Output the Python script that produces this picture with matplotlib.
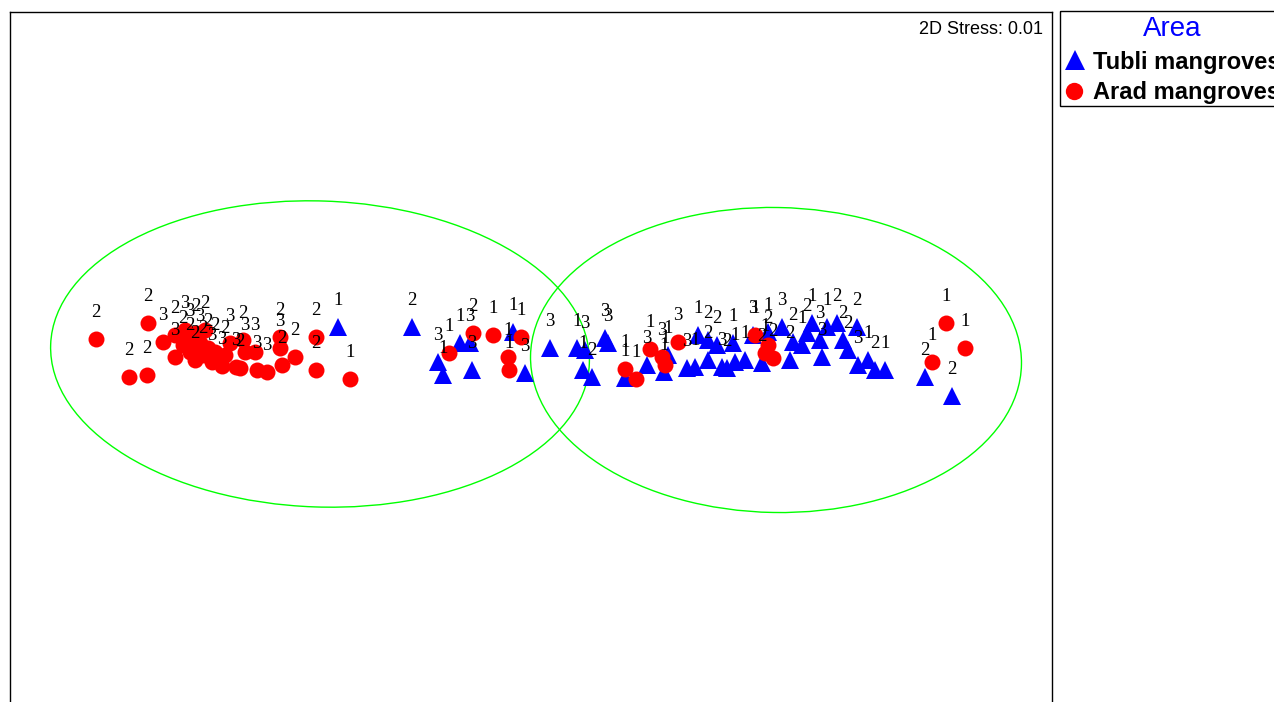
import matplotlib
matplotlib.use("Agg")
import matplotlib.pyplot as plt
from matplotlib.patches import Ellipse, Rectangle

# nMDS coordinates, with sample labels
tubli_x = [-1.92, -1.18, -0.70, -0.60, -0.92, -0.87, -0.58, -0.17, -0.05, 0.20,
           0.47, 0.55, 0.53, 0.62, 0.75, 0.78, 0.95, 1.17, 1.34, 1.38,
           1.57, 1.65, 1.68, 1.78, 1.87, 1.78, 1.92, 1.97, 2.03, 2.05,
           2.15, 2.23, 2.32, 2.38, 2.52, 2.60, 2.63, 2.72, 2.77, 2.82,
           2.90, 2.92, 2.97, 3.07, 3.13, 3.18, 3.27, 3.28, 3.38, 3.45,
           3.55, 3.95, 4.22]
tubli_y = [0.23, 0.23, 0.07, 0.07, -0.12, -0.25, -0.20, 0.18, -0.23, 0.02,
           0.02, 0.00, -0.20, -0.27, 0.12, 0.07, -0.28, -0.15, -0.22, -0.05,
           -0.18, -0.17, 0.15, 0.10, 0.05, -0.10, -0.17, -0.18, 0.07, -0.12,
           -0.10, 0.15, -0.13, 0.18, 0.23, -0.10, 0.08, 0.05, 0.17, 0.27,
           0.10, -0.07, 0.23, 0.27, 0.10, 0.00, 0.23, -0.15, -0.10, -0.20,
           -0.20, -0.27, -0.46]
tubli_lab = ['1', '2', '1', '3', '3', '1', '3', '1', '3', '3',
             '1', '3', '1', '2', '3', '3', '1', '3', '1', '1',
             '3', '1', '1', '2', '2', '2', '3', '2', '1', '1',
             '1', '3', '2', '1', '3', '2', '2', '1', '2', '1',
             '3', '3', '1', '2', '2', '2', '2', '3', '1', '2',
             '1', '2', '2']

arad_x = [-4.34, -3.82, -4.01, -3.83, -3.67, -3.55, -3.47, -3.40, -3.40, -3.35,
          -3.30, -3.27, -3.22, -3.18, -3.15, -3.08, -3.05, -2.94, -2.90, -2.87,
          -2.85, -2.75, -2.73, -2.63, -2.50, -2.50, -2.48, -2.35, -2.14, -2.14,
          -1.80, -3.45, -3.34, -3.25, -3.55, -3.00,
          -0.81, -0.57, -0.37, -0.09, -0.22, -0.21,
          0.95, 1.06, 1.20, 1.32, 1.35, 1.48, 2.25, 2.38, 2.35, 2.43,
          4.16, 4.35, 4.02]
arad_y = [0.11, 0.27, -0.27, -0.25, 0.08, -0.07, 0.05, 0.12, -0.02, -0.10,
          0.07, -0.05, 0.02, -0.12, -0.02, -0.16, -0.05, -0.17, -0.18, 0.10,
          -0.02, -0.02, -0.20, -0.22, 0.13, 0.02, -0.15, -0.07, 0.13, -0.20,
          -0.29, 0.20, 0.17, 0.20, 0.15, 0.07,
          -0.03, 0.17, 0.15, 0.13, -0.07, -0.20,
          -0.19, -0.29, 0.01, -0.07, -0.15, 0.08, 0.15, 0.05, -0.03, -0.08,
          0.27, 0.02, -0.12]
arad_lab = ['2', '2', '2', '2', '3', '3', '2', '3', '2', '2',
            '3', '2', '2', '3', '2', '3', '2', '3', '2', '2',
            '3', '3', '3', '3', '2', '3', '2', '2', '2', '2',
            '1', '3', '2', '2', '2', '3',
            '1', '2', '1', '1', '1', '1',
            '1', '1', '1', '3', '1', '3', '1', '2', '1', '2',
            '1', '1', '1']

# cluster ellipses: centre x, centre y, width, height, angle
ell_cx = [-2.10, 2.46]
ell_cy = [-0.04, -0.10]
ell_w = [5.39, 4.91]
ell_h = [3.06, 3.05]
ell_ang = [-2, -1]

stress = 0.01
groups = ['Tubli mangroves', 'Arad mangroves']

W, H = 1274, 702
fig = plt.figure(figsize=(W / 100, H / 100), dpi=100)
ax = fig.add_axes([10 / W, (H - 720) / H, 1042 / W, 708 / H])
ax.set_xlim(-5.20, 5.22)
ax.set_ylim(-3.70, 3.38)
ax.set_xticks([])
ax.set_yticks([])
for s in ax.spines.values():
    s.set_linewidth(1.0)
    s.set_color('black')

for cx, cy, w, h, a in zip(ell_cx, ell_cy, ell_w, ell_h, ell_ang):
    ax.add_patch(Ellipse((cx, cy), w, h, angle=a, fill=False,
                         edgecolor='#00ff00', linewidth=1.0, zorder=1))

ax.plot(tubli_x, tubli_y, '^', color='#0000ff', markersize=13.5,
        markeredgewidth=0, linestyle='none', zorder=2)
ax.plot(arad_x, arad_y, 'o', color='#ff0000', markersize=11.5,
        markeredgewidth=0, linestyle='none', zorder=2)

serif = ['Liberation Serif', 'DejaVu Serif']
for xs, ys, labs in [(arad_x, arad_y, arad_lab), (tubli_x, tubli_y, tubli_lab)]:
    for x, y, t in zip(xs, ys, labs):
        ax.annotate(t, (x, y), xytext=(0, 19), textcoords='offset points',
                    ha='center', va='center', fontsize=13.5, family=serif,
                    color='black', zorder=3)

ax.text(0.9915, 0.975, '2D Stress: %.2f' % stress, transform=ax.transAxes,
        ha='right', va='center', fontsize=13, family='Liberation Sans')

# legend box, drawn in figure pixels (it runs off the right edge)
lg = fig.add_axes([0, 0, 1, 1])
lg.set_xlim(0, W)
lg.set_ylim(H, 0)
lg.axis('off')
lg.add_patch(Rectangle((1059.5, 10.5), 240, 95.5, fill=False,
                       edgecolor='black', linewidth=1.0))
lg.text(1172, 29, 'Area', color='#0000ff', fontsize=20, family='Liberation Sans',
        ha='center', va='center')
lg.plot([1075], [60], '^', color='#0000ff', markersize=14, markeredgewidth=0)
lg.plot([1074], [91], 'o', color='#ff0000', markersize=12.5, markeredgewidth=0)
for yy, name in zip([62, 92], groups):
    lg.text(1093, yy, name, fontsize=17, fontweight='bold',
            family='Liberation Sans', ha='left', va='center')

fig.savefig('out.png', dpi=100)
